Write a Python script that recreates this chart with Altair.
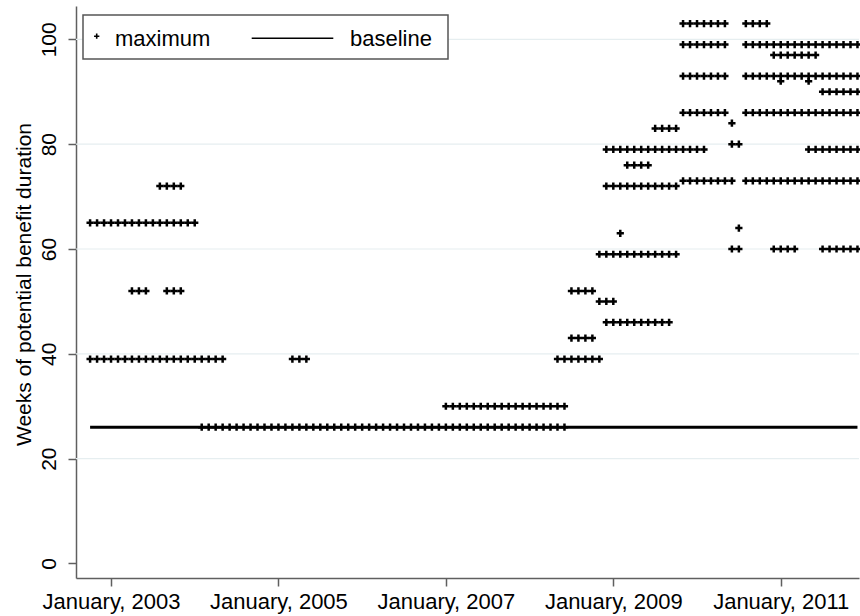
import altair as alt
import pandas as pd

# Monthly maximum weeks of potential benefit duration, stored as runs of
# consecutive months at the same level. Months are counted from January 2003 = 0.
run_level = [65, 72, 52, 52, 39, 26, 39, 30,
             39, 52, 43, 50, 59, 46, 72, 79, 63, 76, 83,
             103, 99, 93, 86, 73, 84, 80, 60, 64,
             103, 99, 93, 86, 73, 97, 92, 92, 60, 79, 90, 60]
run_first = [-3, 7, 3, 8, -3, 13, 26, 48,
             64, 66, 66, 70, 70, 71, 71, 71, 73, 74, 78,
             82, 82, 82, 82, 82, 89, 89, 89, 90,
             91, 91, 91, 91, 91, 95, 96, 100, 95, 100, 102, 102]
run_last = [12, 10, 5, 10, 16, 65, 28, 65,
            70, 69, 69, 72, 81, 80, 81, 85, 73, 77, 81,
            88, 88, 88, 88, 89, 89, 90, 90, 90,
            94, 107, 107, 107, 107, 101, 96, 100, 98, 107, 107, 107]

# Regular baseline duration over the whole period
baseline_weeks = 26
baseline_months = [-3, 107]

tick_months = [0, 24, 48, 72, 96]
tick_labels = ["January, 2003", "January, 2005", "January, 2007",
               "January, 2009", "January, 2011"]
y_ticks = [0, 20, 40, 60, 80, 100]
grid_levels = [20, 40, 60, 80, 100]

FONT = "Liberation Sans"
AXIS_GRAY = "#5f5f5f"

rows = []
for lvl, a, b in zip(run_level, run_first, run_last):
    for m in range(a, b + 1):
        rows.append({"month": m, "weeks": lvl})
points_df = pd.DataFrame(rows)

base_df = pd.DataFrame({"month": baseline_months,
                        "weeks": [baseline_weeks] * len(baseline_months)})
grid_df = pd.DataFrame({"weeks": grid_levels})
one = pd.DataFrame({"k": [0]})

label_expr = "".join(
    f"datum.value == {m} ? '{t}' : " for m, t in zip(tick_months, tick_labels)
) + "''"

x_scale = alt.Scale(domain=[-5.02, 107.22], nice=False, zero=False)
y_scale = alt.Scale(domain=[-2.77, 106.36], nice=False, zero=False)

x_axis = alt.Axis(
    values=tick_months, labelExpr=label_expr, title=None, grid=False,
    tickSize=8, tickColor=AXIS_GRAY, tickWidth=1.5,
    domainColor=AXIS_GRAY, domainWidth=1.5,
    labelFont=FONT, labelFontSize=22, labelColor="black",
    labelPadding=5, labelOverlap=False, labelFlush=False)

y_axis = alt.Axis(
    values=y_ticks, title="Weeks of potential benefit duration", grid=False,
    tickSize=8, tickColor=AXIS_GRAY, tickWidth=1.5,
    domainColor=AXIS_GRAY, domainWidth=1.5,
    labelFont=FONT, labelFontSize=21, labelColor="black",
    labelAngle=270, labelAlign="center", labelBaseline="alphabetic",
    labelPadding=13, labelOverlap=False, labelFlush=False,
    titleFont=FONT, titleFontSize=21, titleFontWeight="normal", titleColor="black",
    titleAngle=270, titleAlign="center", titleBaseline="alphabetic",
    titleX=-46, titleY=278)

PLUS = "M-1,0L1,0M0,-1L0,1"

grid = alt.Chart(grid_df).mark_rule(color="#e6eef0", strokeWidth=1.2).encode(
    y=alt.Y("weeks:Q", scale=y_scale, axis=y_axis)
)

base_line = alt.Chart(base_df).mark_line(color="black", strokeWidth=3).encode(
    x=alt.X("month:Q", scale=x_scale, axis=x_axis),
    y=alt.Y("weeks:Q", scale=y_scale, axis=y_axis),
)

pts = alt.Chart(points_df).mark_point(
    shape=PLUS, size=52, strokeWidth=2.5, filled=False, color="black", opacity=1
).encode(
    x=alt.X("month:Q", scale=x_scale, axis=x_axis),
    y=alt.Y("weeks:Q", scale=y_scale, axis=y_axis),
)

# Legend drawn inside the plot area
leg_box = alt.Chart(one).mark_rect(
    fill="white", stroke="#555555", strokeWidth=1.5
).encode(x=alt.value(7), x2=alt.value(372), y=alt.value(9), y2=alt.value(53))

leg_plus = alt.Chart(one).mark_point(
    shape=PLUS, size=28, strokeWidth=1.6, filled=False, color="black", opacity=1
).encode(x=alt.value(20.7), y=alt.value(30.2))

leg_line = alt.Chart(one).mark_rule(color="black", strokeWidth=1.6).encode(
    x=alt.value(175.7), x2=alt.value(257.3), y=alt.value(32.3)
)

leg_text1 = alt.Chart(one).mark_text(
    font=FONT, fontSize=22, color="black", align="left", baseline="alphabetic"
).encode(x=alt.value(39), y=alt.value(40), text=alt.value("maximum"))

leg_text2 = alt.Chart(one).mark_text(
    font=FONT, fontSize=22, color="black", align="left", baseline="alphabetic"
).encode(x=alt.value(274), y=alt.value(40), text=alt.value("baseline"))

chart = alt.layer(
    grid, base_line, pts, leg_box, leg_plus, leg_line, leg_text1, leg_text2
).properties(
    width=783, height=572,
    autosize=alt.AutoSizeParams(type="none"),
    padding={"left": 76, "top": 6, "right": 1, "bottom": 38},
    background="white",
).configure_view(stroke=None)

chart.save("out.html", embed_options={"renderer": "svg", "actions": False})
